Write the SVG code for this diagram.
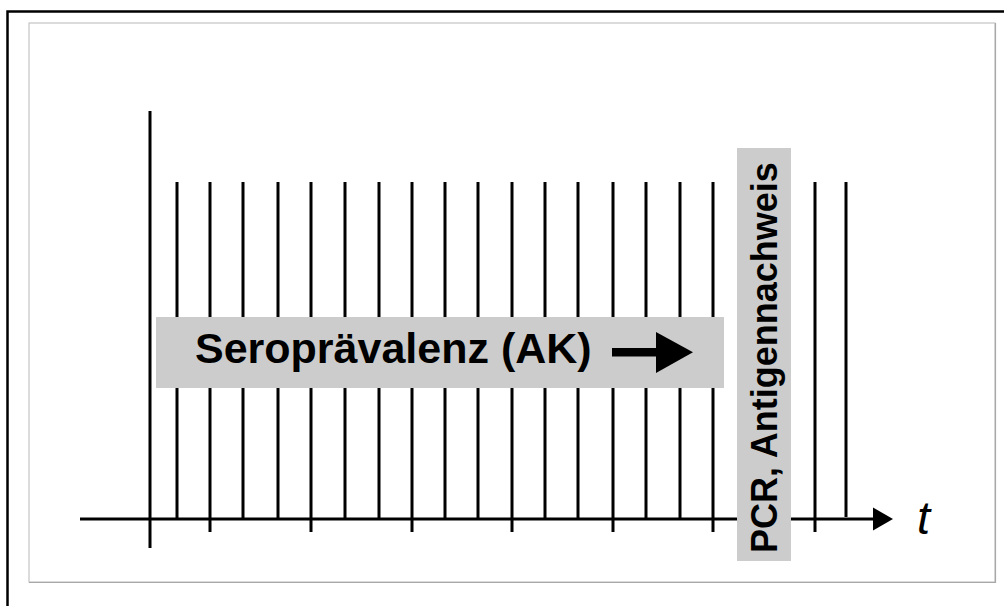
<svg xmlns="http://www.w3.org/2000/svg" width="1004" height="606" viewBox="0 0 1004 606">
<style>
.ln{stroke:#000;stroke-width:3;fill:none}
.box{fill:#cccccc}
.lbl{font-family:"Liberation Sans",Arial,sans-serif;font-weight:bold;fill:#000}
</style>
<rect x="0" y="0" width="1004" height="606" fill="#fff"/>
<g id="frame">
<rect x="7.5" y="11.5" width="1010" height="610" fill="none" stroke="#000" stroke-width="2.5"/>
<rect x="29" y="23" width="966" height="559" fill="#fff" stroke="#c4c4c4" stroke-width="1.2"/>
<path d="M995.5 23 V582.5 H29" fill="none" stroke="#a8a8a8" stroke-width="1.2"/>
</g>
<g id="connectors">
<path class="ln" d="M80 519 H876"/>
<polygon points="873,507.5 893,519 873,530.5" fill="#000"/>
<path class="ln" d="M150 111 V548"/>
<path class="ln" d="M177 182 V519 M243 182 V519 M278 182 V519 M345 182 V519 M379 182 V519 M445 182 V519 M478 182 V519 M545 182 V519 M578 182 V519 M646 182 V519 M680 182 V519 M846 182 V517"/>
<path class="ln" d="M210 182 V532 M311 182 V532 M412 182 V532 M512 182 V532 M613 182 V532 M713 182 V532 M815 182 V532"/>
</g>
<g id="seropraevalenz">
<rect class="box" x="156" y="317" width="568" height="71"/>
<text class="lbl" x="195" y="363" font-size="43">Seroprävalenz (AK)</text>
<rect x="612" y="348" width="46" height="8.5" fill="#000"/>
<polygon points="656,332 693,352.3 656,373" fill="#000"/>
</g>
<g id="pcr">
<rect class="box" x="737" y="148" width="54" height="413"/>
<text class="lbl" font-size="36" transform="translate(777 553) rotate(-90)" x="0" y="0">PCR, Antigennachweis</text>
</g>
<g id="t-label">
<text x="917" y="534" font-family="'Liberation Sans',Arial,sans-serif" font-style="italic" font-size="47" fill="#000">t</text>
</g>
</svg>
